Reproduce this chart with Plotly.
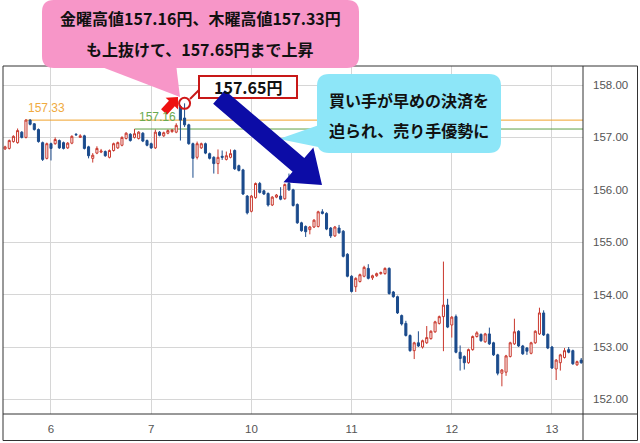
import plotly.graph_objects as go

# ---------------- data (hourly candles) ----------------
opens = [156.78,156.79,156.92,156.90,157.10,157.00,157.33,157.26,157.15,156.90,
         156.60,156.88,156.88,156.94,156.90,156.80,156.89,157.06,157.00,157.03,
         156.82,156.60,156.70,156.72,156.73,156.62,156.75,156.80,156.85,156.98,
         157.06,157.00,156.98,157.08,156.94,156.88,156.80,157.10,157.03,157.08,
         157.11,157.10,157.59,157.37,157.24,156.88,156.62,156.80,156.88,156.69,
         156.62,156.50,156.64,156.58,156.62,156.75,156.46,156.38,155.88,155.59,
         155.85,156.12,155.98,155.93,155.71,155.86,155.88,155.83,156.12,156.00,
         155.72,155.37,155.30,155.24,155.29,155.30,155.58,155.55,155.27,155.12,
         155.27,155.21,154.77,154.35,154.15,154.25,154.35,154.50,154.32,154.36,
         154.40,154.40,154.50,154.05,153.96,153.60,153.45,153.22,152.93,153.08,
         153.00,153.08,153.16,153.29,153.45,153.58,153.80,153.42,153.58,152.90,
         152.82,152.70,152.95,153.20,153.24,153.10,153.25,153.08,152.85,152.50,
         152.52,152.82,153.06,153.30,153.02,152.98,152.88,153.08,153.25,153.65,
         153.24,153.00,152.58,152.70,152.80,152.95,152.93,152.66,152.75]
highs = [156.84,156.96,157.04,157.17,157.12,157.35,157.35,157.27,157.17,156.92,
         156.90,156.90,157.00,156.96,156.92,156.91,157.04,157.08,157.06,157.05,
         156.84,156.70,156.83,156.78,156.75,156.77,156.90,156.92,157.02,157.10,
         157.08,157.16,157.12,157.10,156.96,156.90,157.15,157.12,157.11,157.15,
         157.16,157.27,157.62,157.65,157.26,156.90,156.92,156.90,156.90,156.71,
         156.64,156.77,156.75,156.73,156.77,156.77,156.48,156.40,155.90,155.90,
         156.14,156.15,156.00,155.95,155.88,155.92,156.05,156.12,156.31,156.02,
         155.74,155.39,155.32,155.31,155.44,155.60,155.63,155.57,155.29,155.31,
         155.33,155.23,154.79,154.37,154.33,154.40,154.55,154.58,154.38,154.42,
         154.44,154.52,154.52,154.07,153.98,153.62,153.50,153.24,153.10,153.30,
         153.14,153.40,153.32,153.50,153.60,154.63,153.92,153.59,153.62,153.03,
         152.84,152.97,153.22,153.30,153.26,153.27,153.37,153.10,152.87,152.58,
         152.85,153.10,153.54,153.32,153.04,153.00,153.10,153.32,153.75,153.70,
         153.26,153.02,152.77,152.87,152.98,153.00,152.95,152.74,152.79]
lows = [156.76,156.77,156.90,156.88,156.98,156.98,157.23,157.13,156.90,156.55,
        156.58,156.56,156.86,156.78,156.77,156.78,156.87,157.03,156.99,156.77,
        156.60,156.52,156.68,156.70,156.63,156.60,156.73,156.78,156.83,156.96,
        156.92,156.98,156.96,156.91,156.83,156.78,156.78,157.02,157.01,157.06,
        157.09,157.08,156.94,157.20,156.86,156.23,156.58,156.78,156.68,156.58,
        156.31,156.30,156.57,156.56,156.60,156.38,156.35,155.90,155.53,155.57,
        155.83,155.93,155.90,155.68,155.69,155.84,155.80,155.81,155.98,155.68,
        155.35,155.20,155.10,155.15,155.27,155.28,155.53,155.23,155.08,155.10,
        155.16,154.71,154.33,154.04,154.05,154.23,154.33,154.29,154.28,154.34,
        154.38,154.38,154.00,153.94,153.63,153.41,153.20,152.91,152.77,153.00,
        152.97,153.06,153.14,153.27,153.43,152.92,153.36,153.18,152.88,152.55,
        152.57,152.68,152.93,153.18,153.10,153.08,153.04,152.83,152.46,152.25,
        152.45,152.80,153.04,153.00,152.85,152.85,152.86,153.06,153.23,153.21,
        152.96,152.58,152.37,152.55,152.78,152.88,152.66,152.64,152.68]
closes = [156.82,156.94,157.02,157.13,157.00,157.33,157.25,157.15,156.92,156.58,
          156.88,156.79,156.96,156.80,156.79,156.89,157.02,157.05,157.03,156.79,
          156.65,156.66,156.79,156.74,156.65,156.75,156.88,156.90,157.00,157.08,
          156.94,157.07,157.10,156.93,156.85,156.80,157.10,157.04,157.09,157.13,
          157.14,157.23,157.33,157.24,156.88,156.60,156.88,156.88,156.70,156.60,
          156.50,156.62,156.62,156.65,156.69,156.40,156.37,155.92,155.56,155.88,
          156.12,155.95,155.92,155.71,155.86,155.90,155.82,156.10,156.00,155.70,
          155.37,155.22,155.20,155.29,155.42,155.58,155.55,155.25,155.12,155.29,
          155.18,154.73,154.35,154.06,154.31,154.38,154.52,154.31,154.36,154.40,
          154.42,154.50,154.02,153.96,153.65,153.44,153.22,152.93,153.08,153.02,
          153.12,153.18,153.30,153.48,153.58,153.80,153.38,153.57,152.90,152.78,
          152.70,152.95,153.20,153.27,153.12,153.25,153.06,152.85,152.50,152.56,
          152.83,153.08,153.29,153.02,152.87,152.92,153.08,153.30,153.65,153.23,
          152.98,152.60,152.75,152.85,152.93,152.90,152.68,152.72,152.70]
candle_idx = list(range(len(opens)))

day_tick_idx = [11, 35, 59, 83, 107, 131]
day_labels = ["6", "7", "10", "11", "12", "13"]
price_ticks = [152, 153, 154, 155, 156, 157, 158]

level_values = [157.33, 157.16]
level_start_idx = [5, 31]
level_colors = ["#f0a32c", "#5e9f44"]
level_text_colors = ["#f0aa40", "#6aaa50"]
level_label_idx = [10.0, 36.5]

peak_idx = 43
peak_price = 157.65

callout_pink = ["金曜高値157.16円、木曜高値157.33円", "も上抜けて、157.65円まで上昇"]
callout_cyan = ["買い手が早めの決済を", "迫られ、売り手優勢に"]
peak_label = "157.65円"

# ---------------- layout geometry ----------------
W, H = 640, 443
ML, MR, MT, MB = 3, 57, 66, 29
X_RANGE = [-0.496, 138.43]
Y_RANGE = [151.7215, 158.3626]
PW, PH = W - ML - MR, H - MT - MB


def px(X):
    return (X - ML) / PW


def py(Y):
    return (H - MB - Y) / PH


def P(X, Y):
    return f"{px(X):.5f},{py(Y):.5f}"


def rrect_path(x0, y0, x1, y1, r):
    return (f"M {P(x0 + r, y0)} L {P(x1 - r, y0)} Q {P(x1, y0)} {P(x1, y0 + r)} "
            f"L {P(x1, y1 - r)} Q {P(x1, y1)} {P(x1 - r, y1)} L {P(x0 + r, y1)} "
            f"Q {P(x0, y1)} {P(x0, y1 - r)} L {P(x0, y0 + r)} Q {P(x0, y0)} {P(x0 + r, y0)} Z")


def poly_path(pts):
    return "M " + " L ".join(P(a, b) for a, b in pts) + " Z"


def arrow_pts(sx, sy, tx, ty, shw, hhw, hl):
    dx, dy = tx - sx, ty - sy
    ln = (dx * dx + dy * dy) ** 0.5
    ux, uy = dx / ln, dy / ln
    nx, ny = -uy, ux
    bx, by = tx - hl * ux, ty - hl * uy
    return [(tx, ty),
            (bx + hhw * nx, by + hhw * ny),
            (bx + shw * nx, by + shw * ny),
            (sx + shw * nx, sy + shw * ny),
            (sx - shw * nx, sy - shw * ny),
            (bx - shw * nx, by - shw * ny),
            (bx - hhw * nx, by - hhw * ny)]


RED_UP = "#c9372c"
NAVY = "#1b4b8c"

fig = go.Figure()
fig.add_trace(go.Candlestick(
    x=candle_idx, open=opens, high=highs, low=lows, close=closes,
    increasing=dict(line=dict(color=RED_UP, width=1), fillcolor="#ffffff"),
    decreasing=dict(line=dict(color=NAVY, width=1), fillcolor=NAVY),
    whiskerwidth=0, showlegend=False, hoverinfo="skip"))

fig.add_trace(go.Scatter(
    x=[peak_idx], y=[peak_price], mode="markers",
    marker=dict(symbol="circle-open", size=11, color="#d01818", line=dict(width=2)),
    showlegend=False, hoverinfo="skip", cliponaxis=False))

shapes = []
annotations = []

# level lines
for v, s, c in zip(level_values, level_start_idx, level_colors):
    shapes.append(dict(type="line", xref="x", yref="y", x0=s, x1=X_RANGE[1], y0=v, y1=v,
                       line=dict(color=c, width=1), layer="between"))
for v, xi, c in zip(level_values, level_label_idx, level_text_colors):
    annotations.append(dict(xref="x", yref="y", x=xi, y=v, text=f"{v:.2f}", showarrow=False,
                            yshift=12, font=dict(family="Liberation Sans", size=12, color=c)))

# frame
FR = dict(color="#333333", width=1)
shapes.append(dict(type="rect", xref="paper", yref="paper", x0=px(3), x1=px(637.5),
                   y0=py(66), y1=py(440.5), line=FR, layer="above"))
shapes.append(dict(type="line", xref="paper", yref="paper", x0=1, x1=1,
                   y0=py(66), y1=py(440.5), line=FR, layer="above"))
shapes.append(dict(type="line", xref="paper", yref="paper", x0=px(3), x1=px(637.5),
                   y0=0, y1=0, line=FR, layer="above"))

# pink callout
PINK = "#f796c8"
shapes.append(dict(type="path", xref="paper", yref="paper", path=rrect_path(42, 0, 359, 68, 12),
                   fillcolor=PINK, line=dict(width=0), layer="above"))
shapes.append(dict(type="path", xref="paper", yref="paper",
                   path=poly_path([(94, 64), (176, 64), (180, 97)]),
                   fillcolor=PINK, line=dict(width=0), layer="above"))

# cyan callout
CYAN = "#8de6f8"
shapes.append(dict(type="path", xref="paper", yref="paper", path=rrect_path(317, 74, 501, 153, 12),
                   fillcolor=CYAN, line=dict(width=0), layer="above"))
shapes.append(dict(type="path", xref="paper", yref="paper",
                   path=poly_path([(322, 124), (338, 151), (279, 139)]),
                   fillcolor=CYAN, line=dict(width=0), layer="above"))

# red small arrow
shapes.append(dict(type="path", xref="paper", yref="paper",
                   path=poly_path(arrow_pts(164, 112, 178, 97, 4, 8.5, 9)),
                   fillcolor="#ee1111", line=dict(width=0), layer="above"))

# connector + peak label box
shapes.append(dict(type="line", xref="paper", yref="paper", x0=px(190), y0=py(99), x1=px(199), y1=py(90),
                   line=dict(color="#c81818", width=2), layer="above"))
shapes.append(dict(type="rect", xref="paper", yref="paper", x0=px(199), x1=px(297), y0=py(76), y1=py(98),
                   fillcolor="#ffffff", line=dict(color="#c81818", width=2), layer="above"))

# blue arrow
shapes.append(dict(type="path", xref="paper", yref="paper",
                   path=poly_path(arrow_pts(219, 97, 322, 185, 9, 23, 31)),
                   fillcolor="#0c0ca6", line=dict(width=0), layer="above"))

JP = dict(family="Noto Sans CJK JP", size=16, color="#111111")
for txt, Y in zip(callout_pink, [18, 49]):
    annotations.append(dict(xref="paper", yref="paper", x=px(200), y=py(Y), text=f"<b>{txt}</b>",
                            showarrow=False, xanchor="center", yanchor="middle", font=JP))
for txt, Y in zip(callout_cyan, [100, 130]):
    annotations.append(dict(xref="paper", yref="paper", x=px(409), y=py(Y), text=f"<b>{txt}</b>",
                            showarrow=False, xanchor="center", yanchor="middle", font=JP))
annotations.append(dict(xref="paper", yref="paper", x=px(248), y=py(87), text=f"<b>{peak_label}</b>",
                        showarrow=False, xanchor="center", yanchor="middle", font=JP))

TICKF = dict(family="Liberation Sans", size=11.5, color="#555555")
fig.update_layout(
    width=W, height=H,
    margin=dict(l=ML, r=MR, t=MT, b=MB, pad=0),
    paper_bgcolor="white", plot_bgcolor="white",
    shapes=shapes, annotations=annotations,
    hovermode=False,
    xaxis=dict(range=X_RANGE, tickmode="array", tickvals=day_tick_idx, ticktext=day_labels,
               showgrid=True, gridcolor="#d6d6d6", gridwidth=1, zeroline=False, showline=False,
               ticks="", tickfont=TICKF, ticklabelstandoff=6, rangeslider=dict(visible=False),
               fixedrange=True),
    yaxis=dict(range=Y_RANGE, side="right", tickmode="array", tickvals=price_ticks,
               tickformat=".2f", showgrid=True, gridcolor="#d6d6d6", gridwidth=1,
               zeroline=False, showline=False, ticks="", tickfont=TICKF,
               ticklabelstandoff=9, fixedrange=True),
)

fig.write_html("out.html", config={"displayModeBar": False},
               post_script="document.body.style.margin='0';document.body.style.overflow='hidden';")
